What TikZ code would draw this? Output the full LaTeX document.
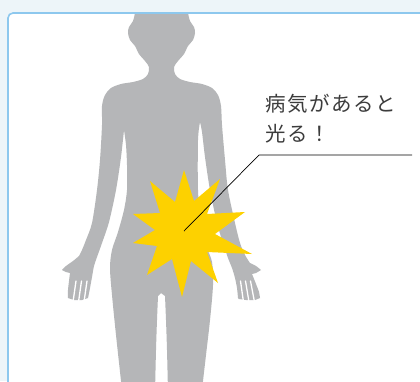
\documentclass[tikz,border=0pt]{standalone}
\usepackage{fontspec}
\newfontfamily\jpfont[LetterSpace=8]{Noto Sans CJK JP}
\usepackage{tikz}
\definecolor{panelbg}{HTML}{EDF5F9}
\definecolor{panelline}{HTML}{8DC8EE}
\definecolor{bodygray}{HTML}{B5B6B8}
\definecolor{flashyellow}{HTML}{FDD100}
\definecolor{textgray}{HTML}{3C3C3C}
\tikzstyle{panel} = [rounded corners=5pt, line width=1.6pt, draw=panelline]
\tikzstyle{body} = [fill=bodygray]
\tikzstyle{gap} = [draw=white, line width=1.3pt, line cap=round]
\tikzstyle{flash} = [fill=flashyellow]
\tikzstyle{leader} = [draw=black, line width=0.7pt]
\tikzstyle{caption} = [anchor=north west, inner sep=0pt, align=left, text=textgray, font=\jpfont\fontsize{20.5}{30}\selectfont]

\begin{document}
\begin{tikzpicture}[x=1pt, y=-1pt]
		
		\useasboundingbox (0,0) rectangle (420,381);
		\fill[panelbg] (0,0) rectangle (420,381);
		\clip (0,0) rectangle (420,381);
		\fill[white, rounded corners=5pt] (8,13) rectangle (440,400);
		
		% silhouette
		\fill[body] (135,13) -- (188,13)
		-- plot[smooth] coordinates {(188,13) (190,21) (194,27) (195,33) (193,40) (188,46) (184,54) (178,61) (174,67) (175,74) (180,79) (190,82) (202,84) (212,88) (218,95) (221,106) (222,125) (225,160) (228,190) (235,223) (240,243) (245,255) (250,263)}
		-- plot[smooth] coordinates {(250,263) (256,266) (261,270)}
		-- (256,273) -- (252,274)
		-- plot[smooth] coordinates {(252,274) (256,284) (259,292) (260,298)}
		-- (255,300) -- (246,300) -- (239,299)
		-- plot[smooth] coordinates {(238,298) (237,288) (235,278) (232,268) (228,258) (222,240) (217,223) (210,190) (205,157) (202,132) (200,122)}
		-- plot[smooth] coordinates {(200,122) (198,140) (198,190) (201,225) (207,248) (212,262) (213,285) (210,320) (206,355) (203,381) (202,392)}
		-- (168,392)
		-- plot[smooth] coordinates {(168,392) (167,350) (166,320) (165,296)}
		-- (161,293) -- (158,296)
		-- plot[smooth] coordinates {(158,296) (157,320) (156,350) (155,392)}
		-- (122,392)
		-- plot[smooth] coordinates {(122,392) (121,381) (116,335) (112,295) (110,268) (112,250) (118,232) (124,210) (127,190) (127,165) (126,145) (124,130)}
		-- plot[smooth] coordinates {(124,130) (121,157) (116,190) (109,222) (102,243) (97,257) (94,266) (92,277) (90,288) (88,298)}
		-- (82,300) -- (74,300) -- (68,298)
		-- plot[smooth] coordinates {(68,298) (68,290) (69,281) (70,273)}
		-- (66,272)
		-- plot[smooth] coordinates {(62,270) (66,266) (73,261) (79,256)}
		-- plot[smooth] coordinates {(79,256) (82,250) (86,240) (92,223) (97,190) (100,160) (102,125) (102,106) (105,95) (111,88) (121,84) (133,82) (143,79) (148,74) (149,67) (145,61) (139,54) (135,46) (130,40) (128,33) (129,27) (133,21) (135,13)}
		-- cycle;
		
		% fingers
		\draw[gap] (240.5,281) -- (243.5,302);
		\draw[gap] (245.5,281) -- (249,302);
		\draw[gap] (250.5,281) -- (254.5,302);
		\draw[gap] (76,281) -- (73,302);
		\draw[gap] (81.5,281) -- (78.5,302);
		\draw[gap] (87,281) -- (84,302);
		
		% flash
		\fill[flash] (184,170) -- (194,201) -- (220,179) -- (207,214) -- (245,212) -- (215,234) -- (252,254) -- (207,252) -- (218,283) -- (191,261) -- (182,297) -- (172,259) -- (147,275) -- (157,246) -- (133,243) -- (155,230) -- (133,214) -- (160,213) -- (150,181) -- (175,202) -- cycle;
		
		\coordinate (spot) at (184,231);
		\coordinate (elbow) at (259,155);
		\coordinate (tail) at (412,155);
		\node (caption) [caption] at (265,94) {病気があると\\光る！};
		\draw[leader] (spot) -- (elbow) -- (tail);
		
		\draw[panel] (8,13) rectangle (440,400);
		
\end{tikzpicture}
\end{document}
